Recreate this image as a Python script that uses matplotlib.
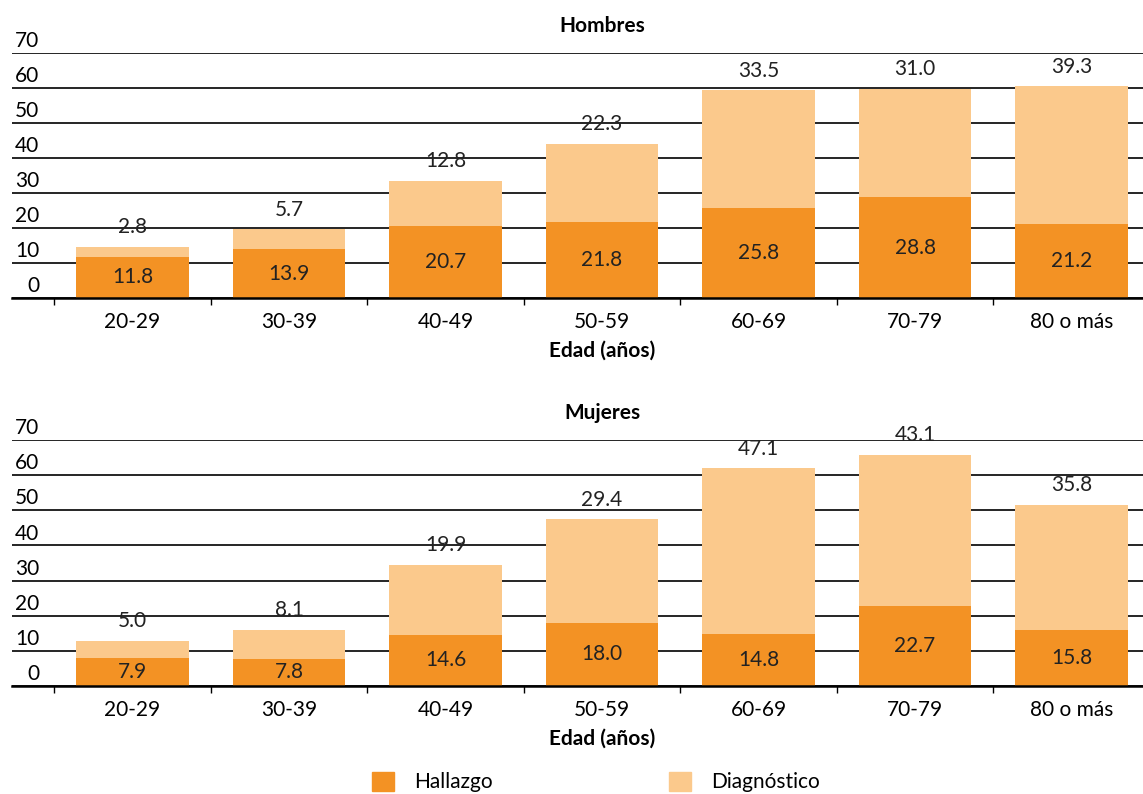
import numpy as np
import matplotlib
matplotlib.use("Agg")
import matplotlib.pyplot as plt
import matplotlib.transforms as mtransforms
from matplotlib.patches import Patch

plt.rcParams["font.family"] = ["Lato", "DejaVu Sans"]

edades = ["20-29", "30-39", "40-49", "50-59", "60-69", "70-79", "80 o más"]
hombres_hallazgo = [11.8, 13.9, 20.7, 21.8, 25.8, 28.8, 21.2]
hombres_diagnostico = [2.8, 5.7, 12.8, 22.3, 33.5, 31.0, 39.3]
mujeres_hallazgo = [7.9, 7.8, 14.6, 18.0, 14.8, 22.7, 15.8]
mujeres_diagnostico = [5.0, 8.1, 19.9, 29.4, 47.1, 43.1, 35.8]
yticks = [0, 10, 20, 30, 40, 50, 60, 70]

c_hallazgo = "#F39224"
c_diag = "#FBC98C"
fs = 15

fig = plt.figure(figsize=(11.43, 7.94), dpi=100)
ax1 = fig.add_axes([0.0105, 0.6247, 1.0324, 0.3085])
ax2 = fig.add_axes([0.0105, 0.1360, 1.0324, 0.3098])


def panel(ax, titulo, hallazgo, diagnostico):
    x = np.arange(len(edades))
    ax.set_axisbelow(True)
    b1 = ax.bar(x, hallazgo, width=0.72, color=c_hallazgo, zorder=2)
    b2 = ax.bar(x, diagnostico, width=0.72, bottom=hallazgo, color=c_diag, zorder=2)
    for rect, v in zip(b1, hallazgo):
        ax.text(rect.get_x() + rect.get_width() / 2, v / 2, f"{v:.1f}",
                ha="center", va="center", fontsize=fs, color="#222222", zorder=3)
    for rect, h, v in zip(b2, hallazgo, diagnostico):
        ax.annotate(f"{v:.1f}", (rect.get_x() + rect.get_width() / 2, h + v),
                    xytext=(0, 7), textcoords="offset points",
                    ha="center", va="bottom", fontsize=fs, color="#222222")

    ax.set_xlim(-0.77, 6.77)
    ax.set_ylim(0, 70)
    ax.set_yticks(yticks)
    ax.yaxis.grid(True, color="black", lw=1.2)
    ax.tick_params(axis="y", length=0, pad=-19.5, labelsize=fs)
    # labels sit between the grid lines
    shift = mtransforms.ScaledTranslation(0, 10 / 72, fig.dpi_scale_trans)
    for lab in ax.get_yticklabels():
        lab.set_transform(lab.get_transform() + shift)

    ax.set_xticks(x)
    ax.set_xticklabels(edades)
    ax.set_xticks(np.arange(-0.5, 7, 1), minor=True)
    ax.tick_params(axis="x", which="major", length=0, pad=10, labelsize=fs)
    ax.tick_params(axis="x", which="minor", length=5, width=1, color="black")
    for s in ["top", "right", "left"]:
        ax.spines[s].set_visible(False)
    ax.spines["bottom"].set_linewidth(1.8)
    ax.set_title(titulo, fontsize=fs, fontweight="bold", pad=15)
    ax.set_xlabel("Edad (años)", fontsize=fs, fontweight="bold", labelpad=6)


panel(ax1, "Hombres", hombres_hallazgo, hombres_diagnostico)
panel(ax2, "Mujeres", mujeres_hallazgo, mujeres_diagnostico)

handles = [Patch(color=c_hallazgo, label="Hallazgo"),
           Patch(color=c_diag, label="Diagnóstico")]
fig.legend(handles=handles, loc="center", bbox_to_anchor=(596 / 1143, 0.015),
           ncol=2, frameon=False, fontsize=fs, handlelength=1.05, handleheight=1.05,
           handletextpad=0.95, columnspacing=8.5)

fig.savefig("out.png", dpi=100)
